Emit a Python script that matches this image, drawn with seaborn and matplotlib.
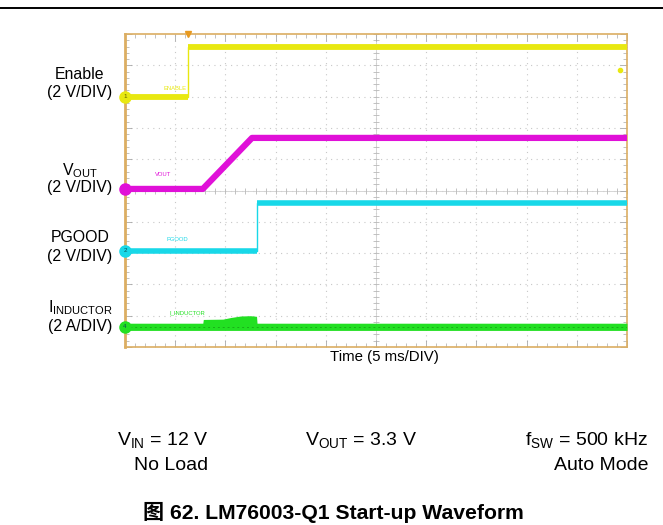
import numpy as np
import pandas as pd
import matplotlib
matplotlib.use("Agg")
import matplotlib.pyplot as plt
from matplotlib.lines import Line2D
import seaborn as sns

# ---------------- data (in scope divisions) ----------------
enable_t = [0.0, 1.25, 1.25, 10.0]
enable_v = [8.0, 8.0, 9.58, 9.58]

vout_t = [0.0, 1.55, 2.53, 10.0]
vout_v = [5.05, 5.05, 6.68, 6.68]

pgood_t = [0.0, 2.63, 2.63, 10.0]
pgood_v = [3.07, 3.07, 4.6, 4.6]

ind_t = [0.0, 1.55, 1.56, 1.95, 2.1, 2.3, 2.5, 2.62, 2.63, 10.0]
ind_top = [0.76, 0.76, 0.88, 0.89, 0.94, 0.99, 1.0, 0.98, 0.76, 0.76]
ind_bot = [0.53, 0.53, 0.53, 0.53, 0.53, 0.53, 0.53, 0.53, 0.53, 0.53]
ind_level = 0.64

channel_names = ["Enable", r"V$_\mathrm{OUT}$", "PGOOD", r"I$_\mathrm{INDUCTOR}$"]
channel_scales = ["(2 V/DIV)", "(2 V/DIV)", "(2 V/DIV)", "(2 A/DIV)"]
channel_nums = ["1", "3", "2", "4"]
trace_tags = ["ENABLE", "VOUT", "PGOOD", "I_INDUCTOR"]

time_label = "Time (5 ms/DIV)"
cond_row1 = [r"V$_\mathrm{IN}$ = 12 V", r"V$_\mathrm{OUT}$ = 3.3 V", r"f$_\mathrm{SW}$ = 500 kHz"]
cond_row2 = ["No Load", "Auto Mode"]
caption = "图 62. LM76003-Q1 Start-up Waveform"

# ---------------- style ----------------
sns.set_theme(style="white")
plt.rcParams["font.family"] = ["Liberation Sans", "Noto Sans CJK SC", "DejaVu Sans"]
plt.rcParams["text.color"] = "black"
plt.rcParams["mathtext.fontset"] = "custom"
plt.rcParams["mathtext.rm"] = "Liberation Sans"
plt.rcParams["mathtext.it"] = "Liberation Sans:italic"
plt.rcParams["mathtext.bf"] = "Liberation Sans:bold"

YEL = "#e8e810"
MAG = "#e010d8"
CYN = "#18d8e8"
GRN = "#22e022"
BORDER = "#dcae62"

fig = plt.figure(figsize=(6.63, 5.25), dpi=100)
ax = fig.add_axes([125 / 663, 1 - 347 / 525, 502 / 663, 313 / 525])
ax.set_xlim(0, 10)
ax.set_ylim(0, 10)

# grid
for k in range(1, 10):
    ax.axvline(k, color="#c8c8c8", lw=0.8, ls=(0, (1, 4)), zorder=0)
    ax.axhline(k, color="#c8c8c8", lw=0.8, ls=(0, (1, 4)), zorder=0)
ax.axvline(5, color="#d0d0d0", lw=0.6, zorder=0)
ax.axhline(5, color="#d0d0d0", lw=0.6, zorder=0)
minor = np.arange(0, 10.01, 0.2)
ax.plot(minor, np.full_like(minor, 5), ls="none", marker="|", ms=4, color="#b8b8b8", mew=0.6, zorder=0)
ax.plot(np.full_like(minor, 5), minor, ls="none", marker="_", ms=4, color="#b8b8b8", mew=0.6, zorder=0)

ax.set_xticks(np.arange(0, 11, 1))
ax.set_yticks(np.arange(0, 11, 1))
ax.set_xticks(minor, minor=True)
ax.set_yticks(minor, minor=True)
ax.tick_params(which="both", direction="in", top=True, right=True, bottom=True, left=True,
               labelbottom=False, labelleft=False, color="#a8a8a8")
ax.tick_params(which="major", length=5, width=0.6)
ax.tick_params(which="minor", length=3, width=0.5)
for s in ax.spines.values():
    s.set_color(BORDER)
    s.set_linewidth(1.2)
ax.spines["left"].set_linewidth(2.0)


def draw_trace(t, v, color, lw):
    t = np.asarray(t, float)
    v = np.asarray(v, float)
    df = pd.DataFrame({"t": t, "v": v})
    sns.lineplot(data=df, x="t", y="v", color=color, lw=1.0, sort=False, estimator=None, ax=ax, zorder=3)
    seg = np.concatenate([[0], np.cumsum(np.diff(t) == 0)])
    df["seg"] = seg
    sns.lineplot(data=df, x="t", y="v", units="seg", color=color, lw=lw, sort=False,
                 estimator=None, ax=ax, zorder=4, solid_capstyle="butt")


draw_trace(enable_t, enable_v, YEL, 4.2)
draw_trace(vout_t, vout_v, MAG, 4.5)
draw_trace(pgood_t, pgood_v, CYN, 4.0)
ax.fill_between(ind_t, ind_bot, ind_top, color=GRN, lw=0, zorder=4)
sns.lineplot(x=[0.0, 10.0], y=[ind_level, ind_level], color="#149c14", lw=0.7, ls=(0, (2, 3)),
             ax=ax, zorder=5, alpha=0.7)
ax.set_xlabel("")
ax.set_ylabel("")

# channel markers
levels = [enable_v[0], vout_v[0], pgood_v[0], ind_level]
cols = [YEL, MAG, CYN, GRN]
for lvl, c, n in zip(levels, cols, channel_nums):
    ax.plot([0.0], [lvl], marker="o", ms=8, color=c, clip_on=False, zorder=6)
    if n != "3":
        ax.text(0.0, lvl, n, ha="center", va="center", fontsize=4.5, color="#606000" if c == YEL else "#0a5050",
                zorder=7, clip_on=False)

# trace tags
tag_pos = [(1.0, 8.27), (0.76, 5.5), (1.05, 3.42), (1.25, 1.09)]
for (x, y), s, c in zip(tag_pos, trace_tags, cols):
    ax.text(x, y, s, fontsize=4.2, color=c, ha="center", va="center", zorder=6)

# trigger marker
ax.plot([enable_t[1]], [10], marker="v", ms=5, color="#e89a20", clip_on=False, zorder=7)
ax.plot([9.86], [8.85], marker="o", ms=3, color=YEL, zorder=6)

# left labels
label_y = [(75, 93), (171, 188), (238, 257), (308, 327)]
for (y1, y2), nm, sc in zip(label_y, channel_names, channel_scales):
    fig.text(80 / 663, 1 - y1 / 525, nm, ha="center", va="center", fontsize=11.4, color="black")
    fig.text(80 / 663, 1 - y2 / 525, sc, ha="center", va="center", fontsize=11.4, color="black")

fig.text(384 / 663, 1 - 357 / 525, time_label, ha="center", va="center", fontsize=10.8, color="black")

# top rule
fig.add_artist(Line2D([0, 1], [1 - 8 / 525, 1 - 8 / 525], color="black", lw=1.4))

# conditions
fig.text(117 / 663, 1 - 440 / 525, cond_row1[0], ha="left", va="center", fontsize=14, color="black")
fig.text(305 / 663, 1 - 440 / 525, cond_row1[1], ha="left", va="center", fontsize=14, color="black")
fig.text(648 / 663, 1 - 440 / 525, cond_row1[2], ha="right", va="center", fontsize=14, color="black")
fig.text(134 / 663, 1 - 466 / 525, cond_row2[0], ha="left", va="center", fontsize=14, color="black")
fig.text(648 / 663, 1 - 466 / 525, cond_row2[1], ha="right", va="center", fontsize=14, color="black")

fig.text(333 / 663, 1 - 512 / 525, caption, ha="center", va="center", fontsize=15.2,
         fontweight="bold", color="black")

fig.savefig("out.png", dpi=100)
